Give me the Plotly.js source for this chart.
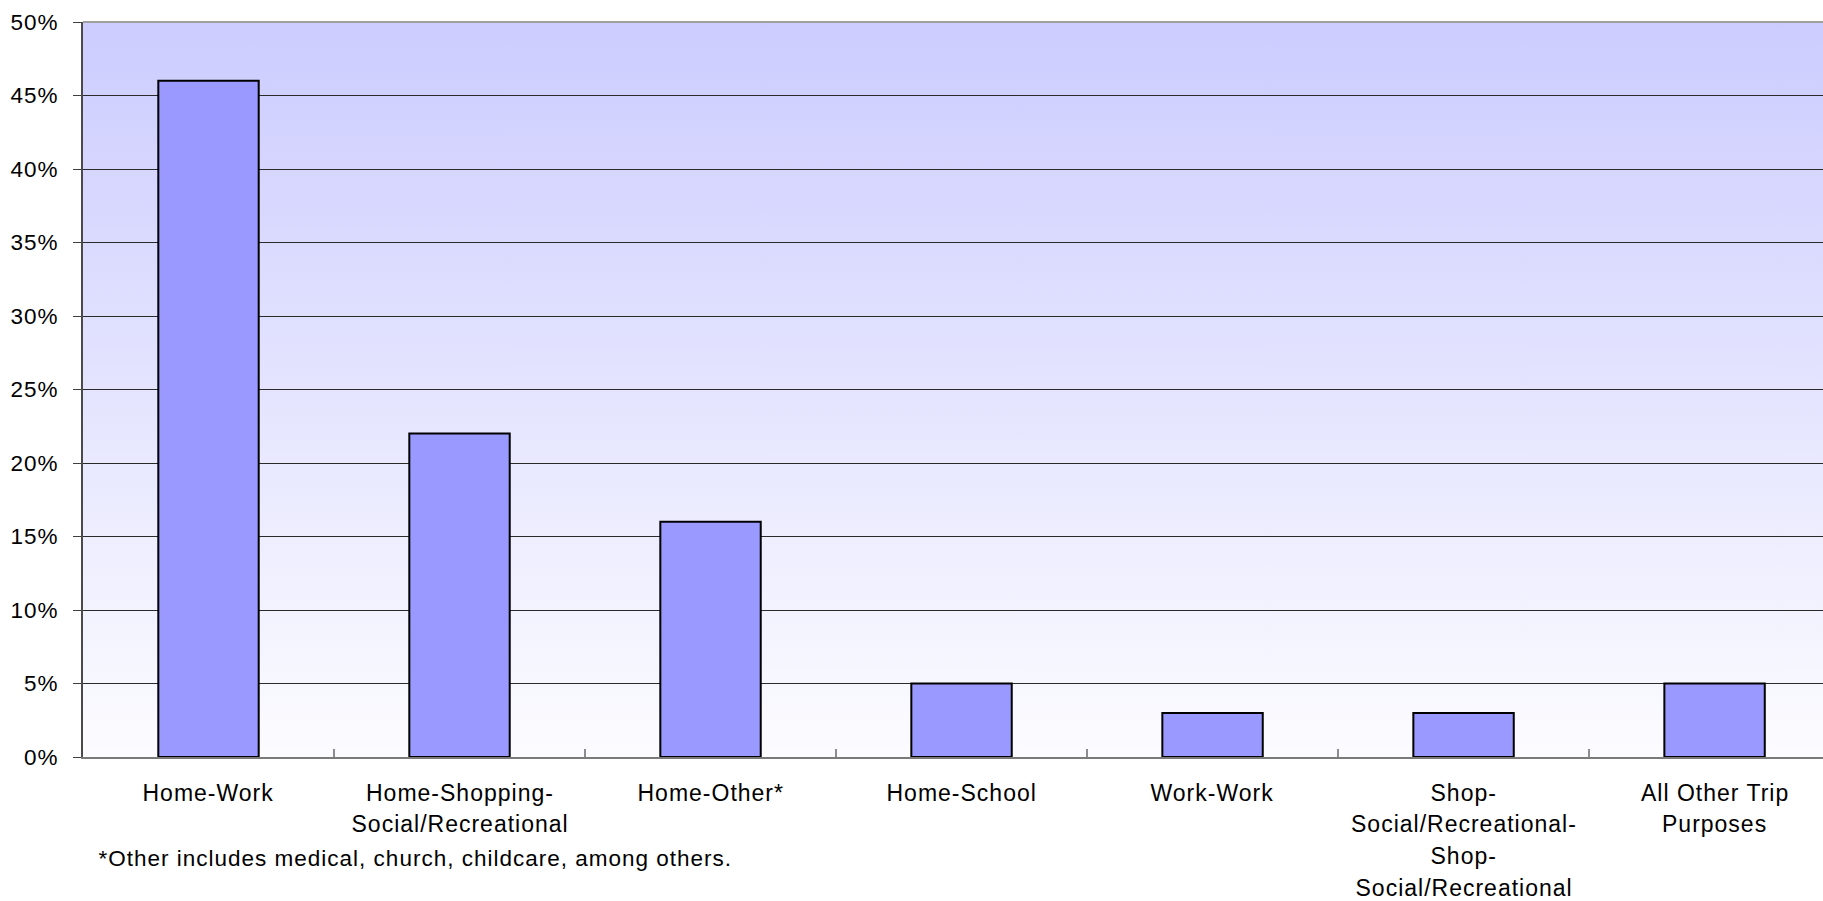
<!DOCTYPE html>
<html>
<head>
<meta charset="utf-8">
<script src="https://cdn.plot.ly/plotly-3.0.1.min.js"></script>
<style>
  html, body { margin: 0; padding: 0; background: #ffffff; }
  #chart { width: 1823px; height: 901px; }
  #chart text { letter-spacing: 1px; }
</style>
</head>
<body>
<div id="chart"></div>
<script>
// ---- data ----
const categories = [
  "Home-Work",
  "Home-Shopping-Social/Recreational",
  "Home-Other*",
  "Home-School",
  "Work-Work",
  "Shop-Social/Recreational-Shop-Social/Recreational",
  "All Other Trip Purposes"
];
const categoryLabelLines = [
  ["Home-Work"],
  ["Home-Shopping-", "Social/Recreational"],
  ["Home-Other*"],
  ["Home-School"],
  ["Work-Work"],
  ["Shop-", "Social/Recreational-", "Shop-", "Social/Recreational"],
  ["All Other Trip", "Purposes"]
];
const shares = [46, 22, 16, 5, 3, 3, 5];
const yTickValues = [0, 5, 10, 15, 20, 25, 30, 35, 40, 45, 50];
const footnote = "*Other includes medical, church, childcare, among others.";

// ---- gradient background (plot area) ----
const gradSvg =
  '<svg xmlns="http://www.w3.org/2000/svg" width="10" height="100" preserveAspectRatio="none">' +
  '<defs><linearGradient id="g" x1="0" y1="0" x2="0" y2="1">' +
  '<stop offset="0" stop-color="#CCCCFF"/><stop offset="1" stop-color="#FCFCFF"/>' +
  '</linearGradient></defs><rect width="10" height="100" fill="url(#g)"/></svg>';
const gradUri = "data:image/svg+xml;base64," + btoa(gradSvg);

const FONT = "Liberation Sans, Arial, sans-serif";
const FS = 23;

// ---- category label annotations (custom line spacing) ----
const annotations = [];
const lineGap = 31.8;
const firstLineOffset = 35.5;
categoryLabelLines.forEach((lines, ci) => {
  lines.forEach((line, li) => {
    annotations.push({
      x: categories[ci], xref: "x",
      y: 0, yref: "paper",
      yanchor: "middle", xanchor: "center",
      yshift: -(firstLineOffset + li * lineGap),
      text: line, showarrow: false, borderpad: 0,
      font: { family: FONT, size: FS, color: "#000000" }
    });
  });
});
// footnote: letter-spacing is not measured by plotly, so compensate half the extra width
annotations.push({
  x: 0, xref: "paper", xanchor: "left", xshift: 14 + footnote.length * 0.5,
  y: 0, yref: "paper", yanchor: "middle", yshift: -101,
  text: footnote, showarrow: false, borderpad: 0,
  font: { family: FONT, size: 22.5, color: "#000000" }
});

const trace = {
  type: "bar",
  x: categories,
  y: shares,
  width: 0.4,
  marker: { color: "#9999FF", line: { color: "#000000", width: 2 } },
  hoverinfo: "x+y"
};

const layout = {
  width: 1823, height: 901,
  margin: { l: 83, r: 0, t: 22, b: 144, pad: 0 },
  paper_bgcolor: "#FFFFFF",
  plot_bgcolor: "rgba(0,0,0,0)",
  showlegend: false,
  bargap: 0.6,
  font: { family: FONT, size: FS, color: "#000000" },
  xaxis: {
    type: "category",
    range: [-0.5, 6.432],
    showticklabels: false,
    ticks: "inside", tickson: "boundaries", ticklen: 8, tickwidth: 2, tickcolor: "#8C8C8C",
    showgrid: false,
    showline: true, linecolor: "#7A7A7A", linewidth: 2,
    zeroline: false, fixedrange: true
  },
  yaxis: {
    range: [0, 50],
    tickvals: yTickValues,
    ticktext: yTickValues.map(v => v + "%"),
    ticks: "outside", ticklen: 8, tickwidth: 1, tickcolor: "#404040",
    ticklabelstandoff: 10,
    tickfont: { family: FONT, size: 22.5, color: "#000000" },
    showgrid: true, gridcolor: "#2A2A2A", gridwidth: 1,
    showline: true, linecolor: "#4A4A4A", linewidth: 2,
    zeroline: false, fixedrange: true
  },
  shapes: [{
    type: "line", xref: "paper", yref: "paper",
    x0: 0, x1: 1, y0: 1, y1: 1,
    line: { color: "#A0A0A0", width: 2 }, layer: "above"
  }],
  images: [{
    source: gradUri, xref: "paper", yref: "paper",
    x: 0, y: 1, sizex: 1, sizey: 1,
    xanchor: "left", yanchor: "top",
    sizing: "stretch", layer: "below"
  }],
  annotations: annotations
};

Plotly.newPlot("chart", [trace], layout, { displayModeBar: false, staticPlot: true });
</script>
</body>
</html>
